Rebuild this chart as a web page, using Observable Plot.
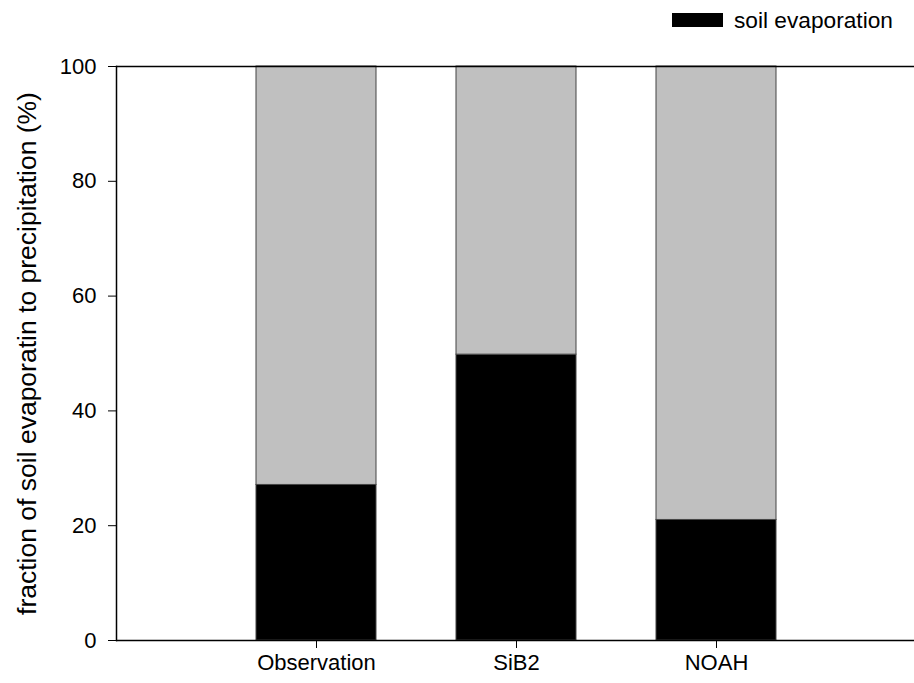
<!DOCTYPE html>
<html>
<head>
<meta charset="utf-8">
<script src="https://cdn.jsdelivr.net/npm/d3@7"></script>
<script src="https://cdn.jsdelivr.net/npm/@observablehq/plot@0.6"></script>
<style>
  body { margin: 0; background: #fff; font-family: "Liberation Sans", Arial, sans-serif; }
  #legend { position: relative; width: 914px; height: 40px; }
  #legend .sw { position: absolute; left: 672px; top: 13px; width: 51px; height: 14px; background: #000; }
  #legend .lb { position: absolute; left: 734px; top: 7px; font-size: 22.7px; line-height: 26px; color: #000; }
</style>
</head>
<body>
<div id="legend"><div class="sw"></div><div class="lb">soil evaporation</div></div>
<div id="chart"></div>
<script>
const categories = ["Observation", "SiB2", "NOAH"];
const soilEvaporation = [27.1, 49.8, 21.0];
const remainder = soilEvaporation.map(v => 100 - v);
const yTicks = [0, 20, 40, 60, 80, 100];
const yLabel = "fraction of soil evaporatin to precipitation (%)";

const data = [];
categories.forEach((c, i) => {
  data.push({cat: c, part: "soil evaporation", value: soilEvaporation[i]});
  data.push({cat: c, part: "rest", value: remainder[i]});
});

const chart = Plot.plot({
  width: 914,
  height: 643,
  marginLeft: 116,
  marginRight: 0,
  marginTop: 26,
  marginBottom: 43,
  style: {fontFamily: "'Liberation Sans', Arial, sans-serif", fontSize: "22px", color: "#000"},
  x: {domain: categories, range: [216, 816], paddingInner: 0.4, paddingOuter: 0.2, label: null},
  y: {domain: [0, 100], label: null},
  color: {domain: ["soil evaporation", "rest"], range: ["#000000", "#c0c0c0"]},
  marks: [
    Plot.barY(data, Plot.stackY({x: "cat", y: "value", fill: "part", order: ["soil evaporation", "rest"], stroke: "#444", strokeWidth: 1})),
    Plot.ruleY([0, 100], {stroke: "#000", strokeWidth: 1.5}),
    Plot.frame({anchor: "left", stroke: "#000", strokeWidth: 1.5}),
    Plot.axisY({ticks: yTicks, tickSize: 8, tickPadding: 12, label: null, fontSize: 22}),
    Plot.axisX({tickSize: 8, tickPadding: 6, label: null, fontSize: 22}),
    Plot.text([yLabel], {frameAnchor: "left", textAnchor: "middle", rotate: -90, dx: -89, fontSize: 26.5, fill: "#000"})
  ]
});
document.getElementById("chart").appendChild(chart);
</script>
</body>
</html>
